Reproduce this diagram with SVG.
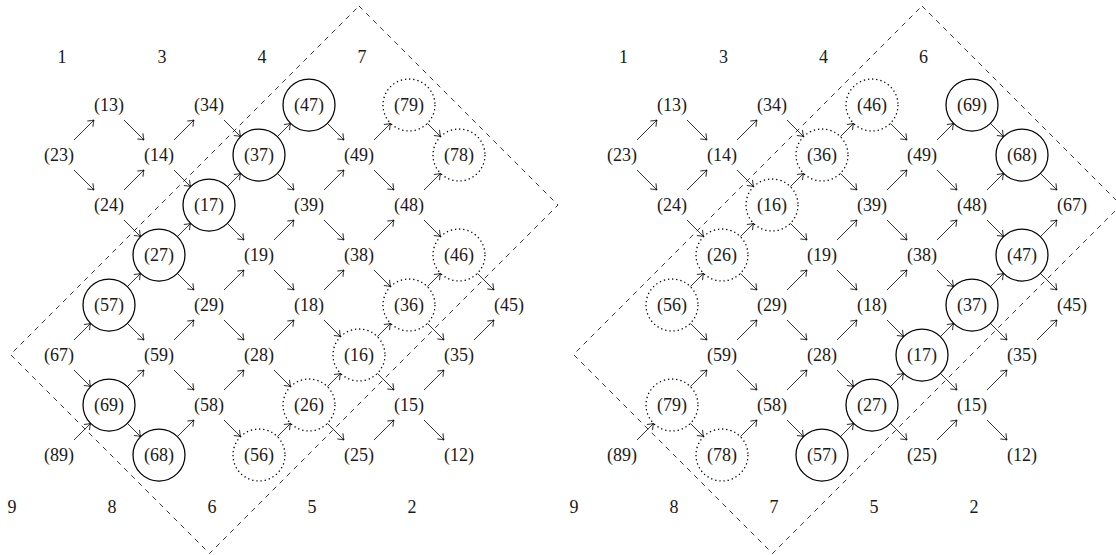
<svg xmlns="http://www.w3.org/2000/svg" width="1116" height="555" viewBox="0 0 1116 555">
<style>
text{font-family:"Liberation Serif","DejaVu Serif",serif;font-size:18px;fill:#1a1a1a;text-anchor:middle}
.c path{fill:none;stroke:#000;stroke-width:0.8;marker-end:url(#ah)}
.s{fill:none;stroke:#000;stroke-width:1.25}
.d{fill:none;stroke:#000;stroke-width:1.3;stroke-dasharray:1.3 2.9}
.box{fill:none;stroke:#000;stroke-width:0.8;stroke-dasharray:5 5}
</style>
<defs>
<marker id="ah" viewBox="-7 -5 8 10" refX="0" refY="0" markerWidth="8" markerHeight="10" markerUnits="userSpaceOnUse" orient="auto">
<path d="M-5.5,-4 Q-2,-1 0,0 Q-2,1 -5.5,4" fill="none" stroke="#000" stroke-width="0.8"/>
</marker>
</defs>

<!-- LEFT DIAGRAM -->
<g id="left">
<polygon class="box" points="359,6 558,205 209.5,553.5 10.5,354.5"/>
<g id="left-labels">
<text x="62" y="63">1</text><text x="162" y="63">3</text><text x="262" y="63">4</text><text x="362" y="63">7</text>
<text x="12" y="512.5">9</text><text x="112" y="512.5">8</text><text x="212" y="512.5">6</text><text x="312" y="512.5">5</text><text x="412" y="512.5">2</text>
</g>
<g id="left-connectors" class="c">
<path d="M124,120 l20,20"/>
<path d="M224,120 l16.6,16.6"/>
<path d="M327.4,123.4 l16.6,16.6"/>
<path d="M427.4,123.4 l13.2,13.2"/>
<path d="M74,140 l20,-20"/>
<path d="M74,170 l20,20"/>
<path d="M174,140 l20,-20"/>
<path d="M174,170 l16.6,16.6"/>
<path d="M277.4,136.6 l13.2,-13.2"/>
<path d="M277.4,173.4 l16.6,16.6"/>
<path d="M374,140 l16.6,-16.6"/>
<path d="M374,170 l20,20"/>
<path d="M124,190 l20,-20"/>
<path d="M124,220 l16.6,16.6"/>
<path d="M227.4,186.6 l13.2,-13.2"/>
<path d="M227.4,223.4 l16.6,16.6"/>
<path d="M324,190 l20,-20"/>
<path d="M324,220 l20,20"/>
<path d="M424,190 l16.6,-16.6"/>
<path d="M424,220 l16.6,16.6"/>
<path d="M177.4,236.6 l13.2,-13.2"/>
<path d="M177.4,273.4 l16.6,16.6"/>
<path d="M274,240 l20,-20"/>
<path d="M274,270 l20,20"/>
<path d="M374,240 l20,-20"/>
<path d="M374,270 l16.6,16.6"/>
<path d="M477.4,273.4 l16.6,16.6"/>
<path d="M127.4,286.6 l13.2,-13.2"/>
<path d="M127.4,323.4 l16.6,16.6"/>
<path d="M224,290 l20,-20"/>
<path d="M224,320 l20,20"/>
<path d="M324,290 l20,-20"/>
<path d="M324,320 l16.6,16.6"/>
<path d="M427.4,286.6 l13.2,-13.2"/>
<path d="M427.4,323.4 l16.6,16.6"/>
<path d="M74,340 l16.6,-16.6"/>
<path d="M74,370 l16.6,16.6"/>
<path d="M174,340 l20,-20"/>
<path d="M174,370 l20,20"/>
<path d="M274,340 l20,-20"/>
<path d="M274,370 l16.6,16.6"/>
<path d="M377.4,336.6 l13.2,-13.2"/>
<path d="M377.4,373.4 l16.6,16.6"/>
<path d="M474,340 l20,-20"/>
<path d="M127.4,386.6 l16.6,-16.6"/>
<path d="M127.4,423.4 l13.2,13.2"/>
<path d="M224,390 l20,-20"/>
<path d="M224,420 l16.6,16.6"/>
<path d="M327.4,386.6 l13.2,-13.2"/>
<path d="M327.4,423.4 l16.6,16.6"/>
<path d="M424,390 l20,-20"/>
<path d="M424,420 l20,20"/>
<path d="M74,440 l16.6,-16.6"/>
<path d="M177.4,436.6 l16.6,-16.6"/>
<path d="M277.4,436.6 l13.2,-13.2"/>
<path d="M374,440 l20,-20"/>
</g>
<g id="L13"><text x="109" y="111">(13)</text></g>
<g id="L34"><text x="209" y="111">(34)</text></g>
<g id="L47"><circle class="s" cx="309" cy="105" r="26"/><text x="309" y="111">(47)</text></g>
<g id="L79"><circle class="d" cx="409" cy="105" r="26"/><text x="409" y="111">(79)</text></g>
<g id="L23"><text x="59" y="161">(23)</text></g>
<g id="L14"><text x="159" y="161">(14)</text></g>
<g id="L37"><circle class="s" cx="259" cy="155" r="26"/><text x="259" y="161">(37)</text></g>
<g id="L49"><text x="359" y="161">(49)</text></g>
<g id="L78"><circle class="d" cx="459" cy="155" r="26"/><text x="459" y="161">(78)</text></g>
<g id="L24"><text x="109" y="211">(24)</text></g>
<g id="L17"><circle class="s" cx="209" cy="205" r="26"/><text x="209" y="211">(17)</text></g>
<g id="L39"><text x="309" y="211">(39)</text></g>
<g id="L48"><text x="409" y="211">(48)</text></g>
<g id="L27"><circle class="s" cx="159" cy="255" r="26"/><text x="159" y="261">(27)</text></g>
<g id="L19"><text x="259" y="261">(19)</text></g>
<g id="L38"><text x="359" y="261">(38)</text></g>
<g id="L46"><circle class="d" cx="459" cy="255" r="26"/><text x="459" y="261">(46)</text></g>
<g id="L57"><circle class="s" cx="109" cy="305" r="26"/><text x="109" y="311">(57)</text></g>
<g id="L29"><text x="209" y="311">(29)</text></g>
<g id="L18"><text x="309" y="311">(18)</text></g>
<g id="L36"><circle class="d" cx="409" cy="305" r="26"/><text x="409" y="311">(36)</text></g>
<g id="L45"><text x="509" y="311">(45)</text></g>
<g id="L67"><text x="59" y="361">(67)</text></g>
<g id="L59"><text x="159" y="361">(59)</text></g>
<g id="L28"><text x="259" y="361">(28)</text></g>
<g id="L16"><circle class="d" cx="359" cy="355" r="26"/><text x="359" y="361">(16)</text></g>
<g id="L35"><text x="459" y="361">(35)</text></g>
<g id="L69"><circle class="s" cx="109" cy="405" r="26"/><text x="109" y="411">(69)</text></g>
<g id="L58"><text x="209" y="411">(58)</text></g>
<g id="L26"><circle class="d" cx="309" cy="405" r="26"/><text x="309" y="411">(26)</text></g>
<g id="L15"><text x="409" y="411">(15)</text></g>
<g id="L89"><text x="59" y="461">(89)</text></g>
<g id="L68"><circle class="s" cx="159" cy="455" r="26"/><text x="159" y="461">(68)</text></g>
<g id="L56"><circle class="d" cx="259" cy="455" r="26"/><text x="259" y="461">(56)</text></g>
<g id="L25"><text x="359" y="461">(25)</text></g>
<g id="L12"><text x="459" y="461">(12)</text></g>
</g>

<!-- RIGHT DIAGRAM -->
<g id="right" transform="translate(563,0)">
<polygon class="box" points="359,6 558,205 209.5,553.5 10.5,354.5"/>
<g id="right-labels">
<text x="60.5" y="63">1</text><text x="160.5" y="63">3</text><text x="260.5" y="63">4</text><text x="360.5" y="63">6</text>
<text x="11" y="512.5">9</text><text x="111" y="512.5">8</text><text x="211" y="512.5">7</text><text x="311" y="512.5">5</text><text x="411" y="512.5">2</text>
</g>
<g id="right-connectors" class="c">
<path d="M124,120 l20,20"/>
<path d="M224,120 l16.6,16.6"/>
<path d="M327.4,123.4 l16.6,16.6"/>
<path d="M427.4,123.4 l13.2,13.2"/>
<path d="M74,140 l20,-20"/>
<path d="M74,170 l20,20"/>
<path d="M174,140 l20,-20"/>
<path d="M174,170 l16.6,16.6"/>
<path d="M277.4,136.6 l13.2,-13.2"/>
<path d="M277.4,173.4 l16.6,16.6"/>
<path d="M374,140 l16.6,-16.6"/>
<path d="M374,170 l20,20"/>
<path d="M477.4,173.4 l16.6,16.6"/>
<path d="M124,190 l20,-20"/>
<path d="M124,220 l16.6,16.6"/>
<path d="M227.4,186.6 l13.2,-13.2"/>
<path d="M227.4,223.4 l16.6,16.6"/>
<path d="M324,190 l20,-20"/>
<path d="M324,220 l20,20"/>
<path d="M424,190 l16.6,-16.6"/>
<path d="M424,220 l16.6,16.6"/>
<path d="M177.4,236.6 l13.2,-13.2"/>
<path d="M177.4,273.4 l16.6,16.6"/>
<path d="M274,240 l20,-20"/>
<path d="M274,270 l20,20"/>
<path d="M374,240 l20,-20"/>
<path d="M374,270 l16.6,16.6"/>
<path d="M477.4,236.6 l16.6,-16.6"/>
<path d="M477.4,273.4 l16.6,16.6"/>
<path d="M127.4,286.6 l13.2,-13.2"/>
<path d="M127.4,323.4 l16.6,16.6"/>
<path d="M224,290 l20,-20"/>
<path d="M224,320 l20,20"/>
<path d="M324,290 l20,-20"/>
<path d="M324,320 l16.6,16.6"/>
<path d="M427.4,286.6 l13.2,-13.2"/>
<path d="M427.4,323.4 l16.6,16.6"/>
<path d="M174,340 l20,-20"/>
<path d="M174,370 l20,20"/>
<path d="M274,340 l20,-20"/>
<path d="M274,370 l16.6,16.6"/>
<path d="M377.4,336.6 l13.2,-13.2"/>
<path d="M377.4,373.4 l16.6,16.6"/>
<path d="M474,340 l20,-20"/>
<path d="M127.4,386.6 l16.6,-16.6"/>
<path d="M127.4,423.4 l13.2,13.2"/>
<path d="M224,390 l20,-20"/>
<path d="M224,420 l16.6,16.6"/>
<path d="M327.4,386.6 l13.2,-13.2"/>
<path d="M327.4,423.4 l16.6,16.6"/>
<path d="M424,390 l20,-20"/>
<path d="M424,420 l20,20"/>
<path d="M74,440 l16.6,-16.6"/>
<path d="M177.4,436.6 l16.6,-16.6"/>
<path d="M277.4,436.6 l13.2,-13.2"/>
<path d="M374,440 l20,-20"/>
</g>
<g id="R13"><text x="109" y="111">(13)</text></g>
<g id="R34"><text x="209" y="111">(34)</text></g>
<g id="R46"><circle class="d" cx="309" cy="105" r="26"/><text x="309" y="111">(46)</text></g>
<g id="R69"><circle class="s" cx="409" cy="105" r="26"/><text x="409" y="111">(69)</text></g>
<g id="R23"><text x="59" y="161">(23)</text></g>
<g id="R14"><text x="159" y="161">(14)</text></g>
<g id="R36"><circle class="d" cx="259" cy="155" r="26"/><text x="259" y="161">(36)</text></g>
<g id="R49"><text x="359" y="161">(49)</text></g>
<g id="R68"><circle class="s" cx="459" cy="155" r="26"/><text x="459" y="161">(68)</text></g>
<g id="R24"><text x="109" y="211">(24)</text></g>
<g id="R16"><circle class="d" cx="209" cy="205" r="26"/><text x="209" y="211">(16)</text></g>
<g id="R39"><text x="309" y="211">(39)</text></g>
<g id="R48"><text x="409" y="211">(48)</text></g>
<g id="R67"><text x="509" y="211">(67)</text></g>
<g id="R26"><circle class="d" cx="159" cy="255" r="26"/><text x="159" y="261">(26)</text></g>
<g id="R19"><text x="259" y="261">(19)</text></g>
<g id="R38"><text x="359" y="261">(38)</text></g>
<g id="R47"><circle class="s" cx="459" cy="255" r="26"/><text x="459" y="261">(47)</text></g>
<g id="R56"><circle class="d" cx="109" cy="305" r="26"/><text x="109" y="311">(56)</text></g>
<g id="R29"><text x="209" y="311">(29)</text></g>
<g id="R18"><text x="309" y="311">(18)</text></g>
<g id="R37"><circle class="s" cx="409" cy="305" r="26"/><text x="409" y="311">(37)</text></g>
<g id="R45"><text x="509" y="311">(45)</text></g>
<g id="R59"><text x="159" y="361">(59)</text></g>
<g id="R28"><text x="259" y="361">(28)</text></g>
<g id="R17"><circle class="s" cx="359" cy="355" r="26"/><text x="359" y="361">(17)</text></g>
<g id="R35"><text x="459" y="361">(35)</text></g>
<g id="R79"><circle class="d" cx="109" cy="405" r="26"/><text x="109" y="411">(79)</text></g>
<g id="R58"><text x="209" y="411">(58)</text></g>
<g id="R27"><circle class="s" cx="309" cy="405" r="26"/><text x="309" y="411">(27)</text></g>
<g id="R15"><text x="409" y="411">(15)</text></g>
<g id="R89"><text x="59" y="461">(89)</text></g>
<g id="R78"><circle class="d" cx="159" cy="455" r="26"/><text x="159" y="461">(78)</text></g>
<g id="R57"><circle class="s" cx="259" cy="455" r="26"/><text x="259" y="461">(57)</text></g>
<g id="R25"><text x="359" y="461">(25)</text></g>
<g id="R12"><text x="459" y="461">(12)</text></g>
</g>
</svg>
